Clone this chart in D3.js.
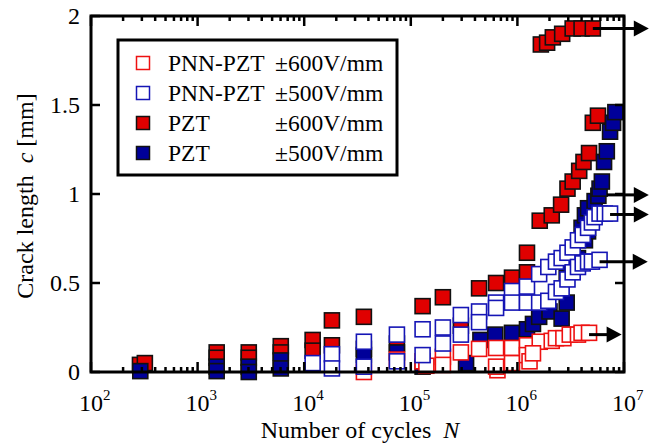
<!DOCTYPE html>
<html><head><meta charset="utf-8">
<script src="https://cdn.jsdelivr.net/npm/d3@7"></script>
<style>
body{margin:0;background:#fff}
svg{display:block}
svg text{font-family:"Liberation Serif","DejaVu Serif",serif !important;}
</style>
</head><body>
<svg id="chart" width="665" height="445"></svg>
<script>
// ---- data ----
const legendLabels = ["PNN-PZT", "PNN-PZT", "PZT", "PZT"];
const legendFields = ["\u00b1600V/mm", "\u00b1500V/mm", "\u00b1600V/mm", "\u00b1500V/mm"];

const yTicks = [0, 0.5, 1, 1.5, 2];
const yTickLabels = ["0", "0.5", "1", "1.5", "2"];
const xTicks = [1e2, 1e3, 1e4, 1e5, 1e6, 1e7];
const xTickExps = ["2", "3", "4", "5", "6", "7"];

// PZT ±600 V/mm (red filled)
const pzt600N = [288, 320, 1510, 1510, 3020, 3020, 6030, 6030, 12000, 12000, 18200, 18200, 36300, 36300, 74100,
  129000, 200000, 295000, 437000, 631000, 890000, 1230000, 1230000,
  1620000, 2100000, 2570000, 2950000, 3300000, 3800000, 4170000, 4700000, 5100000, 5700000,
  1660000, 1900000, 2150000, 2630000, 3300000, 4000000, 5100000];
const pzt600C = [0.04, 0.05, 0.11, 0.08, 0.11, 0.08, 0.145, 0.11, 0.18, 0.12, 0.29, 0.15, 0.31, 0.13, 0.16,
  0.37, 0.42, 0.26, 0.47, 0.50, 0.53, 0.56, 0.67,
  0.85, 0.88, 0.94, 1.03, 1.07, 1.13, 1.18, 1.23, 1.40, 1.44,
  1.84, 1.85, 1.88, 1.90, 1.93, 1.93, 1.93];

// PZT ±500 V/mm (navy filled)
const pzt500N = [290, 1510, 1510, 3020, 3020, 6030, 6030, 36300, 74100, 129000, 330000,
  450000, 620000, 890000, 1230000, 1400000, 1600000, 2000000, 2600000, 2900000,
  2900000, 3100000, 3240000, 3700000, 4300000, 4600000,
  4000000, 4300000, 4600000, 5300000, 5750000, 5900000, 6200000, 6500000, 6900000, 7400000, 7900000, 8300000];
const pzt500C = [0.005, 0.03, 0.005, 0.03, 0.0, 0.065, 0.02, 0.095, 0.11, 0.03, 0.05,
  0.18, 0.21, 0.22, 0.24, 0.27, 0.31, 0.34, 0.30, 0.39,
  0.53, 0.57, 0.60, 0.64, 0.74, 0.79,
  0.81, 0.88, 0.92, 0.96, 0.99, 1.03, 1.07, 1.18, 1.24, 1.35, 1.40, 1.46];

// PNN-PZT ±600 V/mm (red open)
const pnn600N = [36300, 74100, 129000, 140000, 200000, 200000, 295000, 437000, 650000, 631000, 631000,
  890000, 890000, 1230000, 1230000, 1300000, 1620000, 1400000, 2100000, 2300000, 2700000,
  3100000, 3700000, 4000000, 4700000];
const pnn600C = [0.0, 0.07, 0.06, 0.035, 0.085, 0.04, 0.11, 0.13, 0.01, 0.135, 0.03,
  0.135, 0.05, 0.15, 0.095, 0.06, 0.17, 0.105, 0.175, 0.19, 0.19,
  0.21, 0.21, 0.22, 0.22];

// PNN-PZT ±500 V/mm (blue open)
const pnn500N = [12000, 18200, 18200, 36300, 36300, 74100, 74100, 129000, 129000, 200000, 200000,
  295000, 295000, 437000, 437000, 631000, 631000, 890000, 890000, 1230000, 1230000,
  1600000, 1600000, 1950000, 1950000, 2300000, 2300000, 2600000, 2600000, 2950000, 2950000,
  3300000, 3300000, 3700000, 3700000, 4100000, 4100000, 4600000, 4600000, 5000000, 5000000,
  5300000, 5900000, 5900000, 6600000, 7400000];
const pnn500C = [0.05, 0.10, 0.02, 0.17, 0.03, 0.21, 0.06, 0.24, 0.095, 0.25, 0.16,
  0.32, 0.21, 0.34, 0.28, 0.39, 0.36, 0.455, 0.39, 0.48, 0.39,
  0.55, 0.39, 0.59, 0.40, 0.62, 0.45, 0.64, 0.47, 0.67, 0.52,
  0.70, 0.56, 0.74, 0.59, 0.77, 0.61, 0.81, 0.62, 0.84, 0.62,
  0.87, 0.63, 0.89, 0.89, 0.89];

// run-out arrows
const arrowC = [1.93, 0.995, 0.885, 0.62, 0.21];
const arrowStartN = [5100000, 6900000, 7400000, 5900000, 4700000];
const arrowTipN = [17100000, 17100000, 17100000, 16700000, 9500000];

// ---- drawing ----
const svg = d3.select("#chart");
const L = 91, R = 624, T = 16, B = 372;
const x = d3.scaleLog().domain([1e2, 1e7]).range([L, R]);
const y = d3.scaleLinear().domain([0, 2]).range([B, T]);

const styles = [
  {N: pzt600N, C: pzt600C, fill: "#e00000", stroke: "#111", sw: 1.6},
  {N: pzt500N, C: pzt500C, fill: "#000099", stroke: "#111", sw: 1.6},
  {N: pnn600N, C: pnn600C, fill: "#fff", stroke: "#ee1111", sw: 1.6},
  {N: pnn500N, C: pnn500C, fill: "#fff", stroke: "#1515b5", sw: 1.6}
];
const S = 15;
const gPts = svg.append("g");
styles.forEach(s => {
  const data = s.N.map((n, i) => [n, s.C[i]]);
  gPts.append("g").selectAll("rect").data(data).join("rect")
    .attr("x", d => x(d[0]) - S / 2).attr("y", d => y(d[1]) - S / 2)
    .attr("width", S).attr("height", S)
    .attr("fill", s.fill).attr("stroke", s.stroke).attr("stroke-width", s.sw);
});

// arrows
const gA = svg.append("g");
arrowC.forEach((c, i) => {
  const yy = y(c), tip = x(arrowTipN[i]), st = x(arrowStartN[i]);
  gA.append("line").attr("x1", st).attr("x2", tip - 12).attr("y1", yy).attr("y2", yy)
    .attr("stroke", "#000").attr("stroke-width", 3);
  gA.append("path").attr("d", `M${tip},${yy} L${tip - 15},${yy - 8} L${tip - 15},${yy + 8} Z`).attr("fill", "#000");
});

// ticks
const gT = svg.append("g").attr("stroke", "#000").attr("stroke-width", 2.5);
const minor = [];
for (let e = 2; e < 7; e++) for (let k = 2; k <= 9; k++) minor.push(k * Math.pow(10, e));
minor.forEach(v => {
  gT.append("line").attr("x1", x(v)).attr("x2", x(v)).attr("y1", B).attr("y2", B - 5);
  gT.append("line").attr("x1", x(v)).attr("x2", x(v)).attr("y1", T).attr("y2", T + 5);
});
xTicks.forEach(v => {
  gT.append("line").attr("x1", x(v)).attr("x2", x(v)).attr("y1", B).attr("y2", B - 10);
  gT.append("line").attr("x1", x(v)).attr("x2", x(v)).attr("y1", T).attr("y2", T + 10);
});
yTicks.forEach(v => {
  gT.append("line").attr("x1", L).attr("x2", L + 9).attr("y1", y(v)).attr("y2", y(v));
  gT.append("line").attr("x1", R).attr("x2", R - 9).attr("y1", y(v)).attr("y2", y(v));
});

// frame
svg.append("rect").attr("x", L).attr("y", T).attr("width", R - L).attr("height", B - T)
  .attr("fill", "none").attr("stroke", "#000").attr("stroke-width", 3);

// tick labels
yTicks.forEach((v, i) => {
  svg.append("text").attr("x", 80).attr("y", y(v) + 8).attr("text-anchor", "end")
    .attr("font-size", 24).text(yTickLabels[i]);
});
xTicks.forEach((v, i) => {
  const t = svg.append("text").attr("x", x(v) - 12).attr("y", 411).attr("font-size", 24);
  t.append("tspan").text("10");
  t.append("tspan").attr("font-size", 15).attr("dy", -11).text(xTickExps[i]);
});

// axis titles
const xt = svg.append("text").attr("x", 360).attr("y", 438).attr("text-anchor", "middle").attr("font-size", 24);
xt.append("tspan").text("Number of cycles\u00a0\u00a0");
xt.append("tspan").attr("font-style", "italic").text("N");

const yt = svg.append("text").attr("transform", "translate(33,196) rotate(-90)").attr("text-anchor", "middle").attr("font-size", 24);
yt.append("tspan").text("Crack length\u00a0\u00a0");
yt.append("tspan").attr("font-style", "italic").text("c");
yt.append("tspan").text("\u00a0[mm]");

// legend
const lg = svg.append("g");
lg.append("rect").attr("x", 118).attr("y", 40).attr("width", 279).attr("height", 135)
  .attr("fill", "#fff").attr("stroke", "#000").attr("stroke-width", 3);
const legStyle = [styles[2], styles[3], styles[0], styles[1]];
legendLabels.forEach((lab, i) => {
  const cy = 63 + i * 30;
  const s = legStyle[i];
  lg.append("rect").attr("x", 143 - 6.5).attr("y", cy - 6.5).attr("width", 13).attr("height", 13)
    .attr("fill", s.fill).attr("stroke", s.stroke).attr("stroke-width", 1.5);
  lg.append("text").attr("x", 168).attr("y", cy + 8).attr("font-size", 23.5).text(lab);
  lg.append("text").attr("x", 275).attr("y", cy + 8).attr("font-size", 23.5).text(legendFields[i]);
});
</script>
</body></html>
